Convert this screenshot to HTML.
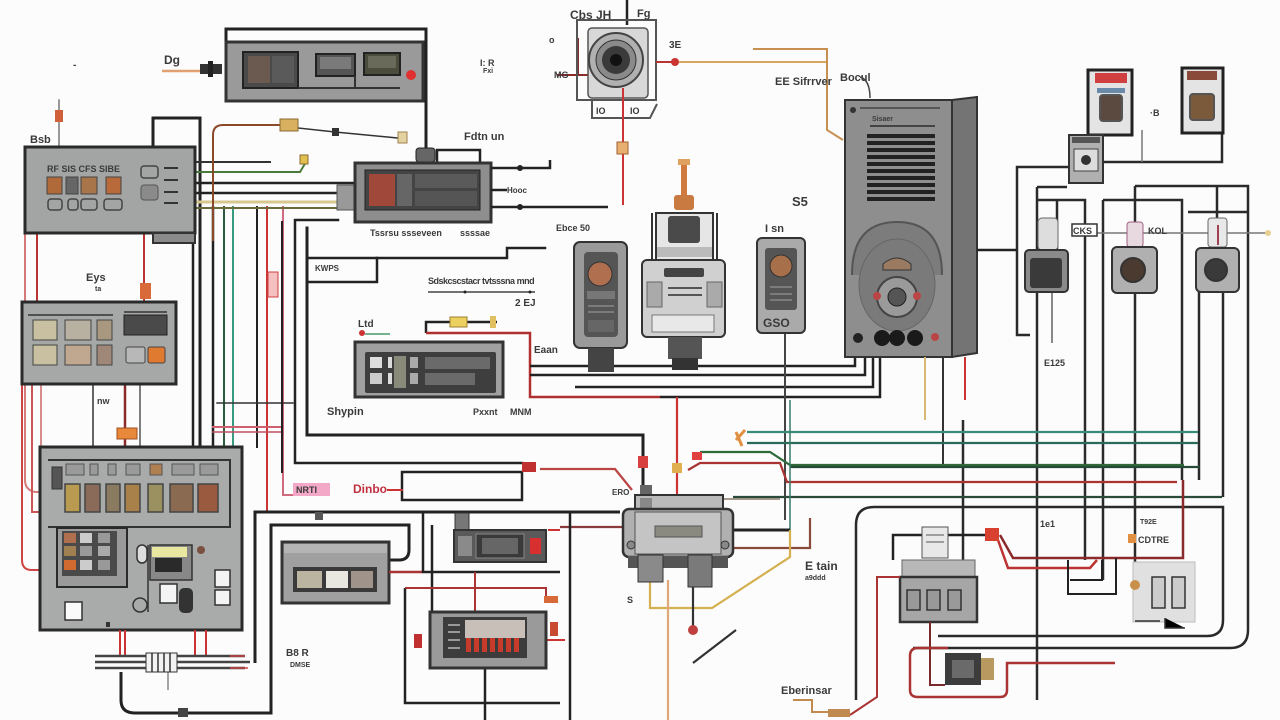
<!DOCTYPE html>
<html><head><meta charset="utf-8"><style>
html,body{margin:0;padding:0;background:#fcfcfc;}
svg{display:block;}
text{font-family:"Liberation Sans",sans-serif;font-weight:bold;fill:#3a3a3a;}
</style></head><body>
<svg width="1280" height="720" viewBox="0 0 1280 720" xmlns="http://www.w3.org/2000/svg">
<rect width="1280" height="720" fill="#fcfcfc"/>

<!-- ===== LEFT VERTICAL WIRE BUNDLE ===== -->
<g fill="none" stroke-linecap="square">
  <path d="M25,233 V480 Q25,490 35,492 H40" stroke="#d47a7a" stroke-width="2"/>
  <path d="M37,233 V302" stroke="#b33" stroke-width="2"/>
  <path d="M22,384 V560 Q22,570 32,570 H40" stroke="#c44" stroke-width="2"/>
  <path d="M32,384 V512 H40" stroke="#c55" stroke-width="2"/>
  <path d="M41,384 V447" stroke="#c66" stroke-width="1.5"/>
  <path d="M144,233 V302" stroke="#b33" stroke-width="2"/>
  <path d="M93,384 V447" stroke="#333" stroke-width="1.5"/>
  <path d="M125,384 V447" stroke="#8a2a2a" stroke-width="2.5"/>
  <path d="M140,384 V447" stroke="#555" stroke-width="1.5"/>
  <path d="M59,100 V147" stroke="#777" stroke-width="1.5"/>
  <!-- loop -->
  <path d="M153,147 V118 H200 V447" stroke="#222" stroke-width="3"/>
  <path d="M193,243 V447" stroke="#222" stroke-width="2.5"/>
  <path d="M213,207 V447" stroke="#222" stroke-width="2.5"/>
  <path d="M224,207 V447" stroke="#2a5a3a" stroke-width="2"/>
  <path d="M233,207 V447" stroke="#3a9a80" stroke-width="2"/>
  <path d="M257,207 V447" stroke="#222" stroke-width="2"/>
  <path d="M267,207 V510" stroke="#c33" stroke-width="2"/>
  <path d="M283,207 V495 H293" stroke="#d06a80" stroke-width="2"/>
  <path d="M217,403 H293" stroke="#333" stroke-width="1.5"/>
  <path d="M213,427 H283" stroke="#d06070" stroke-width="2"/>
  <path d="M213,432 H283" stroke="#c05060" stroke-width="1.5"/>
  <path d="M295,220 H338 M295,220 V463 H522" stroke="#222" stroke-width="2.5"/>
  <path d="M307,228 V435 H643 V490" stroke="#222" stroke-width="3"/>
  <path d="M282,222 V472" stroke="#222" stroke-width="2"/>
  <path d="M307,258 H507 V248 H545" stroke="#222" stroke-width="2.5"/>
  <path d="M307,282 H377 V258" stroke="#222" stroke-width="2.5"/>
  <!-- Dinbo box -->
  <path d="M402,472 H522 V500 H402 Z" stroke="#222" stroke-width="2.5"/>
  <path d="M388,490 H402" stroke="#c33" stroke-width="2"/>
  <!-- panel1 → box2 wires -->
  <path d="M195,162 H270" stroke="#333" stroke-width="2"/>
  <path d="M195,172 H300 L306,162" stroke="#4a7a3a" stroke-width="2"/>
  <path d="M195,183 H355" stroke="#222" stroke-width="2.5"/>
  <path d="M195,193 H340" stroke="#222" stroke-width="2.5"/>
  <path d="M195,202 H340" stroke="#d8c890" stroke-width="3"/>
  <path d="M195,208 H355" stroke="#6a6a3a" stroke-width="2"/>
  <path d="M213,240 V135 Q213,125 223,125 H282" stroke="#8a4a2a" stroke-width="2"/>
  <path d="M298,128 L335,132 L398,138" stroke="#333" stroke-width="1.5"/>
</g>
<rect x="337" y="185" width="18" height="25" fill="#999" stroke="#555"/>
<rect x="280" y="119" width="18" height="12" fill="#d9b060" stroke="#8a6a30"/>
<rect x="332" y="128" width="7" height="8" fill="#333"/>
<rect x="398" y="132" width="9" height="11" fill="#e4d2a0" stroke="#a08050"/>
<rect x="300" y="155" width="8" height="9" fill="#e2c050" stroke="#8a6a30"/>
<rect x="55" y="110" width="8" height="12" fill="#d0603a"/>
<rect x="140" y="283" width="11" height="16" fill="#d86a3a"/>
<rect x="117" y="428" width="20" height="11" fill="#e8883a" stroke="#a05020"/>
<rect x="268" y="272" width="10" height="25" fill="#f5c0c0" stroke="#d04040"/>
<rect x="293" y="483" width="37" height="13" fill="#f4a8c8"/>
<text x="296" y="493" font-size="9" fill="#c05080">NRTI</text>
<text x="353" y="493" font-size="12" fill="#c03040" style="fill:#c03040">Dinbo</text>

<!-- ===== TOP BOX ===== -->
<path d="M226,41 V29 H426 V150" fill="none" stroke="#222" stroke-width="3"/>
<rect x="226" y="42" width="197" height="59" fill="#9a9a9a" stroke="#333" stroke-width="3"/>
<rect x="243" y="52" width="55" height="36" fill="#4a4a4a" stroke="#222" stroke-width="2"/>
<rect x="248" y="56" width="22" height="27" fill="#6a5a50"/>
<rect x="272" y="56" width="22" height="27" fill="#5a5a5a"/>
<rect x="316" y="54" width="39" height="22" fill="#555" stroke="#222" stroke-width="2"/>
<rect x="320" y="57" width="31" height="12" fill="#7a7a7a"/>
<rect x="364" y="53" width="36" height="22" fill="#4c4c3c" stroke="#222" stroke-width="2"/>
<rect x="368" y="56" width="28" height="12" fill="#6a6a5a"/>
<path d="M298,88 H400 M355,76 V88" stroke="#333" stroke-width="2"/>
<circle cx="411" cy="75" r="5" fill="#e03030"/>
<path d="M162,71 H200" stroke="#e0a070" stroke-width="2.5"/>
<rect x="200" y="64" width="22" height="10" fill="#333"/>
<rect x="208" y="61" width="5" height="16" fill="#222"/>
<text x="164" y="64" font-size="12">Dg</text>
<text x="73" y="68" font-size="10" fill="#666">-</text>
<text x="480" y="66" font-size="9">I: R</text>
<text x="483" y="73" font-size="7">Fxi</text>

<!-- ===== LEFT PANEL 1 ===== -->
<rect x="25" y="147" width="170" height="86" fill="#a3a4a4" stroke="#2a2a2a" stroke-width="3"/>
<rect x="153" y="233" width="42" height="10" fill="#8a8a8a" stroke="#333" stroke-width="2"/>
<text x="47" y="172" font-size="9" fill="#555">RF SIS CFS SIBE</text>
<rect x="47" y="177" width="15" height="17" fill="#b06a3a" stroke="#444"/>
<rect x="66" y="177" width="12" height="17" fill="#666" stroke="#444"/>
<rect x="81" y="177" width="16" height="17" fill="#a8754a" stroke="#444"/>
<rect x="106" y="177" width="15" height="17" fill="#b86a3a" stroke="#444"/>
<rect x="48" y="199" width="14" height="11" rx="3" fill="none" stroke="#444" stroke-width="1.5"/>
<rect x="68" y="199" width="10" height="11" rx="3" fill="none" stroke="#444" stroke-width="1.5"/>
<rect x="81" y="199" width="16" height="11" rx="3" fill="none" stroke="#444" stroke-width="1.5"/>
<rect x="104" y="199" width="18" height="11" rx="3" fill="none" stroke="#444" stroke-width="1.5"/>
<rect x="141" y="166" width="17" height="12" rx="3" fill="none" stroke="#444" stroke-width="1.5"/>
<rect x="141" y="185" width="17" height="15" rx="3" fill="#8a8a8a" stroke="#555"/>
<path d="M164,168 H178 M164,180 H178 M164,192 H178 M164,203 H178" stroke="#333" stroke-width="2"/>
<text x="30" y="143" font-size="11">Bsb</text>

<!-- ===== BOX 2 ===== -->
<path d="M437,162 V150 H480 V163" fill="none" stroke="#222" stroke-width="2.5"/>
<path d="M426,150 V160" stroke="#222" stroke-width="3"/>
<rect x="416" y="148" width="19" height="14" rx="3" fill="#666" stroke="#222"/>
<rect x="355" y="163" width="136" height="59" fill="#8e8e8e" stroke="#333" stroke-width="3"/>
<rect x="365" y="170" width="115" height="40" fill="#444" stroke="#222"/>
<rect x="369" y="174" width="26" height="32" fill="#a0483a"/>
<rect x="397" y="174" width="15" height="32" fill="#666"/>
<rect x="415" y="174" width="62" height="14" fill="#5a5a5a"/>
<rect x="415" y="191" width="62" height="15" fill="#555"/>
<path d="M491,168 H550 V160 M491,190 H507 M491,207 H608" fill="none" stroke="#222" stroke-width="2.5"/>
<circle cx="520" cy="168" r="3" fill="#222"/><circle cx="520" cy="207" r="3" fill="#222"/>
<text x="507" y="193" font-size="8">Hooc</text>
<text x="464" y="140" font-size="11">Fdtn un</text>
<text x="370" y="236" font-size="9" fill="#c8c8c8">Tssrsu ssseveen</text>
<text x="460" y="236" font-size="9" fill="#c8c8c8">ssssae</text>

<!-- ===== LEFT PANEL 2 ===== -->
<rect x="22" y="302" width="154" height="82" fill="#a6a7a7" stroke="#2a2a2a" stroke-width="3"/>
<path d="M28,315 H113 M124,312 H167" stroke="#333" stroke-width="1.5"/>
<rect x="33" y="320" width="24" height="20" fill="#c8c0a0" stroke="#444"/>
<rect x="65" y="320" width="26" height="20" fill="#b8b0a0" stroke="#444"/>
<rect x="97" y="320" width="15" height="20" fill="#a89880" stroke="#444"/>
<rect x="33" y="345" width="24" height="20" fill="#c8c0a0" stroke="#444"/>
<rect x="65" y="345" width="26" height="20" fill="#c0a890" stroke="#444"/>
<rect x="97" y="345" width="15" height="20" fill="#a08878" stroke="#444"/>
<rect x="124" y="315" width="43" height="20" fill="#4a4a4a" stroke="#222"/>
<rect x="126" y="347" width="19" height="16" rx="2" fill="#b8b8b8" stroke="#444"/>
<rect x="148" y="347" width="17" height="16" rx="2" fill="#e07a30" stroke="#444"/>
<text x="86" y="281" font-size="11">Eys</text>
<text x="95" y="291" font-size="7">ta</text>
<text x="97" y="404" font-size="9">nw</text>

<!-- ===== BIG LEFT PANEL 3 ===== -->
<rect x="40" y="447" width="202" height="183" fill="#a9aaaa" stroke="#2a2a2a" stroke-width="3"/>
<path d="M48,460 H230 V527 H48" fill="none" stroke="#333" stroke-width="2"/>
<rect x="52" y="467" width="10" height="22" fill="#555" stroke="#333"/>
<g fill="#9a9a9a" stroke="#555" stroke-width="1">
<rect x="66" y="464" width="18" height="11"/><rect x="90" y="464" width="8" height="11"/><rect x="108" y="464" width="8" height="11"/>
<rect x="126" y="464" width="14" height="11"/><rect x="150" y="464" width="12" height="11" fill="#b08050"/>
<rect x="172" y="464" width="22" height="11"/><rect x="200" y="464" width="18" height="11"/>
</g>
<g stroke="#444" stroke-width="1.5">
<rect x="65" y="484" width="15" height="28" fill="#b89a50"/>
<rect x="85" y="484" width="15" height="28" fill="#8a6a58"/>
<rect x="106" y="484" width="14" height="28" fill="#8a7a60"/>
<rect x="125" y="484" width="15" height="28" fill="#a8804a"/>
<rect x="148" y="484" width="15" height="28" fill="#9a9060"/>
<rect x="170" y="484" width="23" height="28" fill="#8a6a50"/>
<rect x="198" y="484" width="20" height="28" fill="#9a5a40"/>
</g>
<rect x="57" y="528" width="70" height="59" fill="#9a9a9a" stroke="#2a2a2a" stroke-width="2"/>
<rect x="62" y="531" width="55" height="45" fill="#4a4a4a"/>
<rect x="64" y="533" width="12" height="10" fill="#b07050"/><rect x="80" y="533" width="12" height="10" fill="#ccc"/><rect x="98" y="533" width="12" height="10" fill="#999"/>
<rect x="64" y="546" width="12" height="10" fill="#a08050"/><rect x="80" y="546" width="12" height="10" fill="#999"/><rect x="98" y="546" width="12" height="10" fill="#aaa"/>
<rect x="64" y="560" width="12" height="10" fill="#d06a30"/><rect x="80" y="560" width="12" height="10" fill="#ccc"/><rect x="98" y="560" width="12" height="10" fill="#999"/>
<path d="M148,545 V612" stroke="#333" stroke-width="1.5"/>
<rect x="150" y="545" width="42" height="35" fill="#888" stroke="#333" stroke-width="1.5"/>
<rect x="152" y="547" width="35" height="10" fill="#e8e8a0"/>
<rect x="155" y="558" width="27" height="14" fill="#2a2a2a"/>
<rect x="137" y="545" width="10" height="18" rx="5" fill="#ddd" stroke="#333" stroke-width="1.5"/>
<rect x="160" y="584" width="17" height="19" fill="#f4f4f4" stroke="#333" stroke-width="1.5"/>
<rect x="179" y="588" width="14" height="25" rx="5" fill="#333"/>
<rect x="215" y="570" width="15" height="17" fill="#f4f4f4" stroke="#333" stroke-width="1.5"/>
<rect x="215" y="590" width="15" height="15" fill="#f4f4f4" stroke="#333" stroke-width="1.5"/>
<rect x="65" y="602" width="17" height="18" fill="#fafafa" stroke="#333" stroke-width="1.5"/>
<circle cx="140" cy="605" r="7" fill="none" stroke="#333" stroke-width="1.5"/>
<circle cx="201" cy="550" r="4" fill="#7a5040"/>
<rect x="106" y="622" width="4" height="5" fill="#333"/>

<!-- bottom-left bundle -->
<g fill="none">
<path d="M120,630 V656 M125,630 V656" stroke="#c33" stroke-width="2"/>
<path d="M195,630 V656 M206,630 V656" stroke="#c33" stroke-width="2"/>
<path d="M95,656 H245 M95,662 H250 M95,668 H245" stroke="#444" stroke-width="2.5"/>
<path d="M230,656 H245 M230,668 H248" stroke="#c44" stroke-width="1.5"/>
<path d="M121,672 V700 Q121,713 135,713 H271 V525 H409 V550 Q409,560 399,560 H389" stroke="#222" stroke-width="3"/>
<path d="M255,663 V512 H620" stroke="#222" stroke-width="3"/>
<path d="M168,672 V690" stroke="#888" stroke-width="1.5"/>
</g>
<rect x="146" y="653" width="31" height="19" fill="#f2f2f2" stroke="#333"/>
<path d="M152,653 V672 M158,653 V672 M164,653 V672 M170,653 V672" stroke="#333" stroke-width="1.5"/>
<rect x="178" y="708" width="10" height="9" fill="#444"/>
<text x="286" y="656" font-size="10">B8 R</text>
<text x="290" y="667" font-size="7" fill="#888">DMSE</text>

<!-- ===== small box (283..389) ===== -->
<rect x="282" y="542" width="107" height="61" fill="#a0a0a0" stroke="#333" stroke-width="3"/>
<rect x="284" y="544" width="103" height="9" fill="#b4b4b4"/>
<rect x="293" y="567" width="84" height="25" fill="#3a3a3a"/>
<rect x="297" y="571" width="25" height="17" fill="#bab4a0"/>
<rect x="326" y="571" width="22" height="17" fill="#e8e8e0"/>
<rect x="351" y="571" width="22" height="17" fill="#a0948a"/>
<rect x="315" y="512" width="8" height="8" fill="#555"/>

<!-- ===== middle lower boxes ===== -->
<g fill="none" stroke-width="2.5">
<path d="M389,572 H423" stroke="#a33"/>
<path d="M423,513 V572 H560" stroke="#222"/>
<path d="M432,525 V623" stroke="#222"/>
<path d="M405,588 V703 H560" stroke="#222"/>
<path d="M405,588 H546 V600" stroke="#a33" stroke-width="2"/>
<path d="M475,572 V612" stroke="#a33" stroke-width="2"/>
<path d="M485,668 V720" stroke="#222"/>
<path d="M548,530 H560 M546,640 H565" stroke="#c33" stroke-width="2"/>
</g>
<rect x="455" y="513" width="14" height="17" fill="#777" stroke="#333"/>
<rect x="454" y="530" width="92" height="32" fill="#5a5a5a" stroke="#333" stroke-width="2"/>
<rect x="458" y="536" width="14" height="20" fill="#8a8a8a"/>
<rect x="476" y="534" width="48" height="24" fill="#3a3a3a" stroke="#888"/>
<rect x="482" y="538" width="36" height="16" fill="#666"/>
<rect x="530" y="538" width="11" height="16" fill="#d83030"/>
<rect x="430" y="612" width="116" height="56" fill="#9a9a9a" stroke="#333" stroke-width="3"/>
<rect x="443" y="617" width="84" height="41" fill="#3c3c3c"/>
<rect x="465" y="620" width="60" height="18" fill="#c8c0b8"/>
<g fill="#c83a2a">
<rect x="466" y="638" width="5" height="14"/><rect x="474" y="638" width="5" height="14"/><rect x="482" y="638" width="5" height="14"/><rect x="490" y="638" width="5" height="14"/><rect x="498" y="638" width="5" height="14"/><rect x="506" y="638" width="5" height="14"/><rect x="514" y="638" width="5" height="14"/>
</g>
<path d="M448,625 H460 M448,632 H460 M448,640 H460 M448,648 H460" stroke="#999" stroke-width="2"/>
<rect x="414" y="634" width="8" height="14" fill="#c03030"/>
<rect x="550" y="622" width="8" height="14" fill="#c84a30"/>
<rect x="544" y="596" width="14" height="7" fill="#d86a3a"/>

<!-- ===== SHYRIN BOX & text ===== -->
<path d="M426,333 V322 H497" fill="none" stroke="#222" stroke-width="2.5"/>
<path d="M426,333 H530 V397 H660" fill="none" stroke="#b03030" stroke-width="2.5"/>
<path d="M530,366 H855 V357 M530,375 H865 V357 M575,387 H873 V357 M660,397 H880 V357" fill="none" stroke="#222" stroke-width="2.5"/>
<rect x="450" y="317" width="17" height="10" fill="#ecd060" stroke="#a08030"/>
<rect x="490" y="316" width="6" height="12" fill="#e0c060"/>
<circle cx="362" cy="333" r="3" fill="#c33"/>
<path d="M365,334 H390" stroke="#4a9a6a" stroke-width="1.5"/>
<text x="358" y="327" font-size="10">Ltd</text>
<rect x="355" y="342" width="148" height="55" fill="#a0a0a0" stroke="#333" stroke-width="3"/>
<rect x="365" y="352" width="131" height="41" rx="2" fill="#3e3e3e"/>
<rect x="370" y="357" width="12" height="11" fill="#ddd"/>
<rect x="388" y="357" width="4" height="11" fill="#ddd"/>
<rect x="394" y="356" width="12" height="32" fill="#8a8a7a"/>
<rect x="410" y="357" width="8" height="11" fill="#aaa"/>
<rect x="425" y="357" width="65" height="12" fill="#6a6a6a"/>
<rect x="370" y="373" width="12" height="11" fill="#ccc"/>
<rect x="388" y="373" width="4" height="11" fill="#ddd"/>
<rect x="410" y="373" width="8" height="11" fill="#aaa"/>
<rect x="425" y="373" width="50" height="12" fill="#6a6a6a"/>
<text x="327" y="415" font-size="11">Shypin</text>
<text x="473" y="415" font-size="9">Pxxnt</text>
<text x="510" y="415" font-size="9" fill="#999">MNM</text>
<text x="534" y="353" font-size="10">Eaan</text>
<text x="315" y="271" font-size="8">KWPS</text>
<text x="428" y="284" font-size="9" letter-spacing="-0.5">Sdskcscstacr tvtsssna mnd</text>
<path d="M428,292 H535" stroke="#444" stroke-width="1.5"/>
<circle cx="465" cy="292" r="1.5" fill="#222"/><circle cx="530" cy="292" r="1.5" fill="#222"/>
<text x="515" y="306" font-size="10">2 EJ</text>

<!-- ===== TOP CAMERA ===== -->
<path d="M627,0 V25" stroke="#222" stroke-width="2.5"/>
<path d="M578,38 V75 M557,75 H590" stroke="#8a2a2a" stroke-width="2"/>
<rect x="577" y="20" width="79" height="80" fill="none" stroke="#555" stroke-width="2"/>
<rect x="588" y="28" width="60" height="70" rx="4" fill="#d8d8d8" stroke="#555" stroke-width="1.5"/>
<circle cx="616" cy="60" r="27" fill="#b0b0b0" stroke="#444" stroke-width="2"/>
<circle cx="616" cy="60" r="20" fill="#8a8a8a" stroke="#333"/>
<circle cx="616" cy="60" r="14" fill="#3a3a3a"/>
<circle cx="616" cy="60" r="6" fill="#111"/>
<path d="M592,100 V118 H650 L657,104" fill="none" stroke="#555" stroke-width="2"/>
<text x="596" y="114" font-size="9">IO</text><text x="630" y="114" font-size="9">IO</text>
<path d="M623,88 V205" stroke="#c33" stroke-width="2"/>
<rect x="617" y="142" width="11" height="12" fill="#e8b070" stroke="#a06030"/>
<path d="M656,62 H675" stroke="#b33" stroke-width="2"/>
<circle cx="675" cy="62" r="4" fill="#c33"/>
<path d="M679,62 H827" stroke="#d8a860" stroke-width="2"/>
<path d="M753,49 H827 V130 L843,140" fill="none" stroke="#c89050" stroke-width="2"/>
<text x="570" y="19" font-size="12" fill="#444">Cbs JH</text>
<text x="637" y="17" font-size="11">Fg</text>
<text x="669" y="48" font-size="10">3E</text>
<text x="554" y="78" font-size="9">MG</text>
<text x="549" y="43" font-size="9" fill="#777">o</text>
<text x="775" y="85" font-size="11">EE Sifrrver</text>
<text x="840" y="81" font-size="11">Bocul</text>
<path d="M860,77 Q870,80 870,98" fill="none" stroke="#444" stroke-width="1.5"/>

<!-- ===== METER DEVICE ===== -->
<rect x="681" y="162" width="6" height="35" fill="#d07a40"/>
<rect x="678" y="159" width="12" height="6" fill="#e0a060"/>
<rect x="674" y="195" width="20" height="15" rx="3" fill="#c87a40"/>
<path d="M652,213 V260 M717,213 V260" stroke="#333" stroke-width="2"/>
<rect x="656" y="213" width="57" height="47" fill="#e6e6e6" stroke="#333" stroke-width="2"/>
<rect x="668" y="216" width="32" height="27" rx="3" fill="#4a4a4a"/>
<rect x="657" y="247" width="55" height="10" fill="#bbb"/>
<rect x="642" y="260" width="83" height="77" rx="5" fill="#d0d0d0" stroke="#333" stroke-width="2"/>
<rect x="664" y="268" width="40" height="9" rx="2" fill="#444"/>
<rect x="647" y="282" width="15" height="25" fill="#aaa" stroke="#666"/>
<rect x="707" y="282" width="15" height="25" fill="#aaa" stroke="#666"/>
<path d="M668,288 H702 M668,295 H702" stroke="#555" stroke-width="2"/>
<rect x="652" y="315" width="62" height="17" fill="#e8e8e8" stroke="#777"/>
<rect x="668" y="337" width="34" height="22" fill="#555"/>
<rect x="672" y="358" width="26" height="12" fill="#333"/>

<!-- ===== DEVICE 1 ===== -->
<rect x="574" y="242" width="53" height="106" rx="6" fill="#9a9a9a" stroke="#333" stroke-width="2"/>
<rect x="584" y="252" width="34" height="85" rx="4" fill="#555"/>
<circle cx="600" cy="274" r="12" fill="#b07050" stroke="#333"/>
<rect x="587" y="291" width="28" height="8" fill="#777"/>
<path d="M588,306 H614 M588,312 H614" stroke="#888" stroke-width="1.5"/>
<rect x="588" y="320" width="26" height="12" fill="#666"/>
<rect x="588" y="348" width="26" height="24" fill="#444"/>
<text x="556" y="231" font-size="9">Ebce 50</text>

<!-- ===== DEVICE 3 ===== -->
<path d="M785,333 V520" stroke="#444" stroke-width="2"/>
<rect x="757" y="238" width="48" height="95" rx="5" fill="#aaa" stroke="#333" stroke-width="2"/>
<rect x="765" y="248" width="32" height="62" rx="3" fill="#555"/>
<circle cx="781" cy="266" r="11" fill="#a8704a" stroke="#333"/>
<path d="M770,287 H792 M770,294 H792 M770,300 H792" stroke="#888" stroke-width="1.5"/>
<text x="763" y="327" font-size="12" fill="#333">GSO</text>
<text x="765" y="232" font-size="11">I sn</text>
<text x="792" y="206" font-size="13" font-weight="normal">S5</text>

<!-- ===== INTERCOM ===== -->
<path d="M952,100 L977,97 V353 L952,357 Z" fill="#747474" stroke="#333" stroke-width="2"/>
<rect x="845" y="100" width="107" height="257" fill="#8e8e8e" stroke="#333" stroke-width="2"/>
<path d="M860,108 H940" stroke="#444" stroke-width="1.5"/>
<circle cx="853" cy="110" r="3" fill="#333"/>
<text x="872" y="121" font-size="7" fill="#333">Sisaer</text>
<path d="M870,126 H935" stroke="#444" stroke-width="2"/>
<g stroke="#222" stroke-width="4">
<path d="M867,136 H935 M867,143 H935 M867,150 H935 M867,157 H935 M867,164 H935 M867,171 H935 M867,178 H935 M867,185 H935 M867,192 H935 M867,199 H935"/>
</g>
<path d="M852,275 Q852,222 897,222 Q942,222 942,275" fill="#7c7c7c" stroke="#555" stroke-width="2"/>
<ellipse cx="897" cy="285" rx="38" ry="46" fill="#7a7a7a" stroke="#666"/>
<path d="M883,264 Q897,252 911,264 V270 H883 Z" fill="#9a7a60" stroke="#333"/>
<circle cx="897" cy="297" r="20" fill="#9a9a9a" stroke="#444" stroke-width="2"/>
<circle cx="897" cy="297" r="9" fill="#555" stroke="#222"/>
<circle cx="877" cy="296" r="4" fill="#b44"/>
<circle cx="917" cy="296" r="4" fill="#b44"/>
<circle cx="858" cy="338" r="5" fill="#222"/>
<circle cx="882" cy="338" r="8" fill="#1a1a1a"/>
<circle cx="897" cy="338" r="8" fill="#1a1a1a"/>
<circle cx="915" cy="338" r="8" fill="#1a1a1a"/>
<circle cx="935" cy="337" r="4" fill="#b44"/>
<path d="M925,357 V420" stroke="#d8b870" stroke-width="2"/>
<path d="M943,357 V465" stroke="#333" stroke-width="2"/>
<path d="M965,357 V400" stroke="#c33" stroke-width="2"/>
<path d="M977,250 H1017" stroke="#222" stroke-width="2.5"/>

<!-- ===== RIGHT SIDE WIRING ===== -->
<g fill="none" stroke="#2a2a2a" stroke-width="2.5">
<path d="M1103,162 H1222 V133"/>
<path d="M1142,130 V162" stroke="#777" stroke-width="1.5"/>
<path d="M1069,167 H1017 V335 H1030"/>
<path d="M1037,187 H1067 M1037,187 V700"/>
<path d="M1037,200 H1085 V560"/>
<path d="M1057,200 V250"/>
<path d="M1103,200 H1182 V480"/>
<path d="M1103,200 V580"/>
<path d="M1135,186 H1248 V630 Q1248,648 1230,648 H913"/>
<path d="M1135,186 V583"/>
<path d="M1217,186 V218"/>
<path d="M1188,212 H1248"/>
<path d="M1199,292 V480"/>
<path d="M1223,292 V497"/>
<path d="M963,420 V560"/>
<path d="M856,700 V525 Q856,507 874,507 H1223 V620 Q1223,636 1207,636 H938"/>
<path d="M1052,292 V343" stroke="#888" stroke-width="2"/>
<path d="M1097,233 H1270" stroke="#777" stroke-width="1.5"/>
</g>
<g fill="none" stroke-width="2.2">
<path d="M747,432 H1198" stroke="#3a8a78"/>
<path d="M747,443 H1198" stroke="#2a6a5a"/>
<path d="M700,452 H770 L790,465 H1184" stroke="#2f6a3a"/>
<path d="M688,470 L700,463 H780 L787,482 H1177" stroke="#a33"/>
<path d="M790,467 H1200" stroke="#254a35"/>
<path d="M733,497 H1222" stroke="#2a4a3a"/>
<path d="M723,499 H780" stroke="#8a7a6a" stroke-width="1.5"/>
<path d="M790,400 V530" stroke="#3a7a6a" stroke-width="1.5"/>
<path d="M677,397 V497" stroke="#c33"/>
<path d="M560,527 H623" stroke="#8a3a3a"/>
<path d="M540,469 H615 L632,490" stroke="#b44"/>
<path d="M733,530 H790" stroke="#222" stroke-width="3"/>
<path d="M733,548 H810 V518" stroke="#8a4a3a"/>
<path d="M650,580 V608 H712 L790,557 V530" stroke="#d4b050"/>
<path d="M668,580 V720" stroke="#e0a878"/>
<path d="M693,580 V630 M693,663 L736,630" stroke="#333"/>
<path d="M570,512 V720" stroke="#222" stroke-width="2.5"/>
</g>
<rect x="638" y="456" width="10" height="12" fill="#d84040"/>
<rect x="640" y="485" width="12" height="12" fill="#666"/>
<rect x="672" y="463" width="10" height="10" fill="#e0b050"/>
<rect x="692" y="452" width="10" height="8" fill="#e04040"/>
<path d="M736,440 L745,430 M736,432 L742,446" stroke="#e09040" stroke-width="3"/>
<rect x="522" y="462" width="14" height="10" fill="#c03030"/>
<circle cx="693" cy="630" r="5" fill="#c04040"/>
<text x="612" y="495" font-size="8" fill="#a33">ERO</text>

<!-- ===== CENTRAL DEVICE ===== -->
<rect x="635" y="495" width="88" height="16" fill="#bbb" stroke="#333" stroke-width="2"/>
<rect x="640" y="498" width="12" height="10" fill="#888"/>
<rect x="623" y="509" width="110" height="48" rx="6" fill="#b0b0b0" stroke="#333" stroke-width="2.5"/>
<rect x="635" y="512" width="86" height="42" fill="#c4c4c4" stroke="#555"/>
<rect x="655" y="526" width="47" height="11" fill="#8a8a80" stroke="#555"/>
<rect x="628" y="556" width="100" height="12" fill="#555"/>
<rect x="638" y="555" width="25" height="27" fill="#8a8a8a" stroke="#333"/>
<rect x="688" y="555" width="24" height="32" fill="#7a7a7a" stroke="#333"/>
<circle cx="631" cy="545" r="4" fill="#888" stroke="#333"/>
<circle cx="725" cy="545" r="4" fill="#888" stroke="#333"/>
<text x="627" y="603" font-size="9">S</text>
<text x="805" y="570" font-size="12" font-weight="normal">E tain</text>
<text x="805" y="580" font-size="7">a9ddd</text>

<!-- ===== RIGHT TOP SMALL DEVICES ===== -->
<rect x="1088" y="70" width="44" height="65" fill="#e4e4e4" stroke="#222" stroke-width="3"/>
<rect x="1095" y="73" width="32" height="10" fill="#d04040"/>
<rect x="1097" y="88" width="28" height="5" fill="#6a8aaa"/>
<rect x="1100" y="95" width="22" height="26" rx="3" fill="#5a4a40" stroke="#555" stroke-width="2"/>
<rect x="1182" y="68" width="41" height="65" fill="#e4e4e4" stroke="#222" stroke-width="3"/>
<rect x="1187" y="71" width="30" height="9" fill="#8a4a3a"/>
<rect x="1190" y="94" width="24" height="26" rx="3" fill="#7a5a3a" stroke="#555" stroke-width="2"/>
<rect x="1069" y="135" width="34" height="48" fill="#b0b0b0" stroke="#333" stroke-width="2"/>
<rect x="1072" y="137" width="28" height="6" fill="#555"/>
<rect x="1074" y="149" width="24" height="22" fill="#ddd" stroke="#444"/>
<circle cx="1086" cy="160" r="5" fill="#333"/>
<text x="1150" y="116" font-size="9" fill="#aaa">·B</text>

<!-- ===== RIGHT CAMERAS ===== -->
<g>
<rect x="1038" y="218" width="20" height="32" rx="4" fill="#ddd" stroke="#666"/>
<rect x="1025" y="250" width="43" height="42" rx="4" fill="#8a8a8a" stroke="#333" stroke-width="2"/>
<rect x="1030" y="258" width="32" height="30" rx="3" fill="#3a3a3a"/>
<rect x="1127" y="222" width="16" height="25" rx="3" fill="#e8d8e0" stroke="#a06080"/>
<rect x="1112" y="247" width="45" height="46" rx="5" fill="#b0b0b0" stroke="#333" stroke-width="2"/>
<circle cx="1133" cy="270" r="12" fill="#4a3a30" stroke="#333" stroke-width="2"/>
<rect x="1208" y="218" width="19" height="29" rx="3" fill="#e8e8e8" stroke="#666"/>
<path d="M1218,225 V245" stroke="#a04050" stroke-width="2"/>
<rect x="1196" y="248" width="43" height="44" rx="5" fill="#b0b0b0" stroke="#333" stroke-width="2"/>
<circle cx="1216" cy="270" r="11" fill="#3a3a3a" stroke="#333" stroke-width="2"/>
</g>
<rect x="1072" y="224" width="25" height="12" fill="#fff" stroke="#333" stroke-width="1.5"/>
<text x="1073" y="234" font-size="9">CKS</text>
<text x="1148" y="234" font-size="9">KOL</text>
<circle cx="1268" cy="233" r="3" fill="#e8d090"/>
<text x="1044" y="366" font-size="9">E125</text>

<!-- ===== BOTTOM RIGHT COMPONENTS ===== -->
<path d="M893,560 V535 H922 M948,535 H985" fill="none" stroke="#222" stroke-width="2.5"/>
<path d="M1000,535 L1013,558 H1183 V480" fill="none" stroke="#8a2a2a" stroke-width="2.5"/>
<path d="M998,540 L1008,568 H1090 L1097,560" fill="none" stroke="#b33" stroke-width="2.5"/>
<path d="M1102,560 V580 H1070 M1068,560 V594 H1116 V558" fill="none" stroke="#222" stroke-width="2"/>
<rect x="985" y="528" width="14" height="13" fill="#d84030"/>
<rect x="922" y="527" width="26" height="31" fill="#e8e8e8" stroke="#555"/>
<path d="M926,535 H944 M926,542 H944" stroke="#555"/>
<rect x="902" y="560" width="73" height="17" fill="#b8b8b8" stroke="#666"/>
<rect x="900" y="577" width="77" height="45" fill="#a6a6a6" stroke="#333" stroke-width="2.5"/>
<rect x="907" y="590" width="13" height="20" fill="#999" stroke="#333" stroke-width="1.5"/>
<rect x="927" y="590" width="13" height="20" fill="#999" stroke="#333" stroke-width="1.5"/>
<rect x="948" y="590" width="13" height="20" fill="#999" stroke="#333" stroke-width="1.5"/>
<path d="M900,577 H877 V697 L850,715" fill="none" stroke="#a33" stroke-width="2"/>
<path d="M930,622 V685 H945" fill="none" stroke="#7a2a2a" stroke-width="2"/>
<rect x="1133" y="562" width="62" height="60" fill="#e0e0e0" stroke="#bbb"/>
<rect x="1152" y="577" width="13" height="31" fill="#ccc" stroke="#333" stroke-width="1.5"/>
<rect x="1172" y="577" width="13" height="31" fill="#ccc" stroke="#333" stroke-width="1.5"/>
<path d="M1135,621 H1160 M1165,618 V628 H1185" stroke="#333" stroke-width="1.5"/>
<circle cx="1135" cy="585" r="5" fill="#c8904a"/>
<rect x="1128" y="534" width="8" height="9" fill="#e09040"/>
<text x="1138" y="543" font-size="9">CDTRE</text>
<text x="1140" y="524" font-size="7" fill="#777">T92E</text>
<text x="1040" y="527" font-size="9" fill="#666">1e1</text>
<path d="M948,648 H918 Q910,648 910,656 V690 Q910,697 918,697 H1000 Q1007,697 1007,690 V663 H1115" fill="none" stroke="#a33" stroke-width="2.5"/>
<rect x="945" y="653" width="36" height="32" fill="#3c3c3c"/>
<rect x="981" y="658" width="13" height="22" fill="#b89a60"/>
<rect x="952" y="660" width="22" height="18" fill="#6a6a6a"/>
<text x="781" y="694" font-size="11" font-weight="normal">Eberinsar</text>
<path d="M793,700 H812 V712 H828" fill="none" stroke="#c08a50" stroke-width="2"/>
<rect x="828" y="709" width="22" height="8" fill="#c08a50"/>
</svg>
</body></html>
